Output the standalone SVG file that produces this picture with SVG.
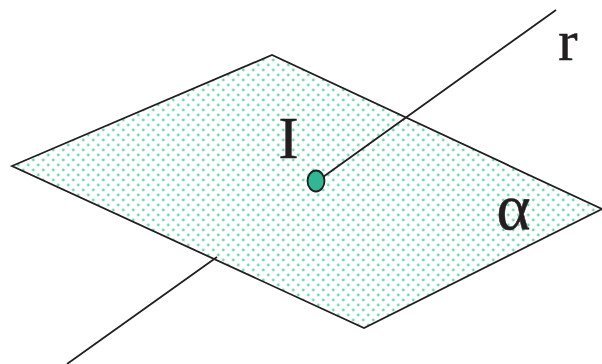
<svg xmlns="http://www.w3.org/2000/svg" width="602" height="364" viewBox="0 0 602 364">
<style>
.l{fill:none;stroke:#231f20;stroke-width:1.8}
.t{font-family:"Liberation Serif",serif;fill:#231f20;stroke:#231f20;stroke-width:0.5}
.d{fill:#6fd3b6}
</style>
<defs>
<pattern id="dots" width="10" height="10" patternUnits="userSpaceOnUse" x="3.3" y="0">
<circle class="d" cx="0" cy="0" r="1.4"/><circle class="d" cx="10" cy="0" r="1.4"/><circle class="d" cx="0" cy="10" r="1.4"/><circle class="d" cx="10" cy="10" r="1.4"/>
<circle class="d" cx="5" cy="5" r="1.4"/>
</pattern>
</defs>
<rect width="602" height="364" fill="#fff"/>
<g id="plane">
<polygon points="12,166 272,55 602,209 364,328" fill="url(#dots)"/>
<polygon class="l" points="12,166 272,55 602,209 364,328"/>
</g>
<g id="connectors">
<line class="l" x1="323" y1="177" x2="556" y2="10"/>
<line class="l" x1="217" y1="257" x2="67" y2="364"/>
</g>
<g id="point">
<ellipse cx="316" cy="181" rx="8.5" ry="10.5" fill="#2fb893" stroke="#231f20" stroke-width="1.8"/>
</g>
<g id="labels">
<text class="t" x="288.500" y="158" font-size="60" text-anchor="middle">I</text>
<text class="t" x="568" y="60" font-size="58" text-anchor="middle">r</text>
<text class="t" x="513.500" y="229" font-size="65" text-anchor="middle">α</text>
</g>
</svg>
